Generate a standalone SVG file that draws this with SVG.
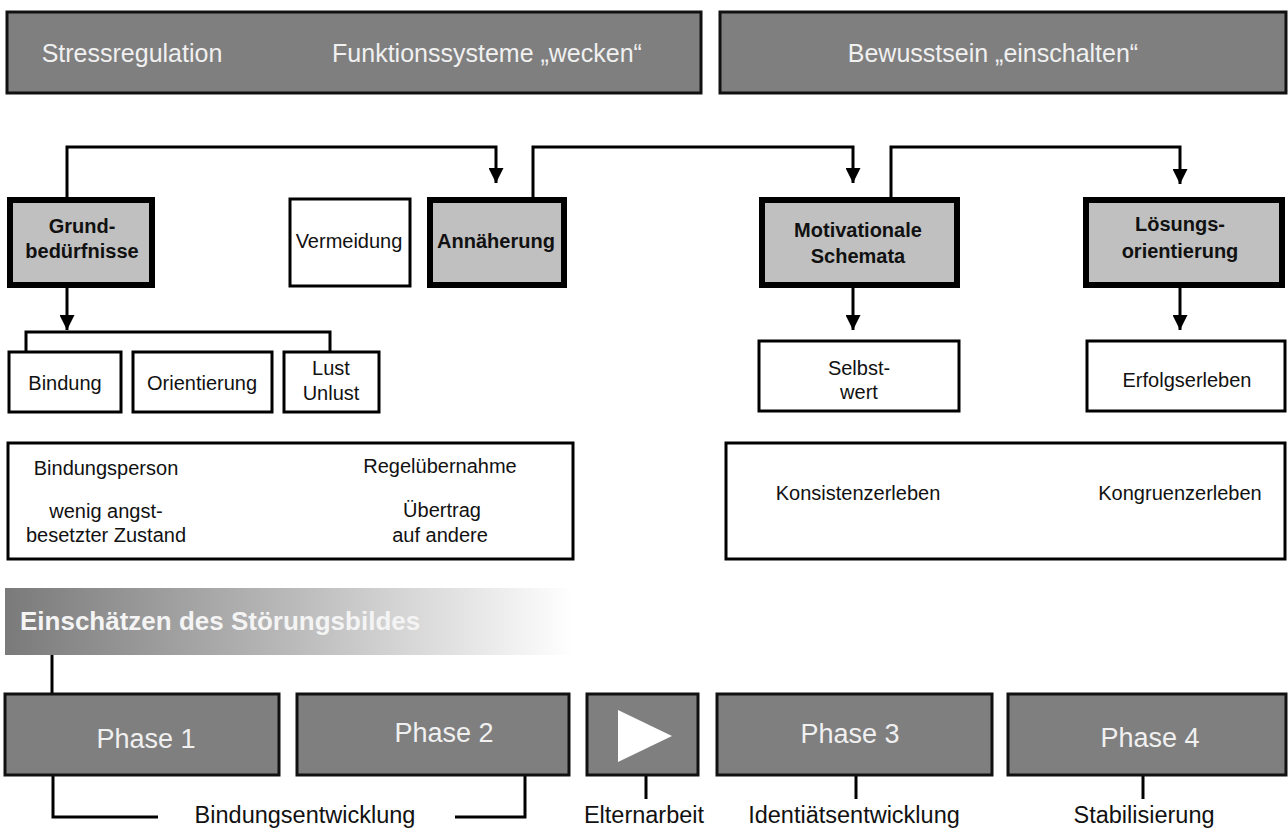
<svg xmlns="http://www.w3.org/2000/svg" width="1288" height="829" viewBox="0 0 1288 829">
<style>
.banner{fill:#7f7f7f;stroke:#111;stroke-width:3}
.hl{fill:#c0c0c0;stroke:#000;stroke-width:6}
.wb{fill:#fff;stroke:#000;stroke-width:3}
.t{font-family:"Liberation Sans",Arial,sans-serif;text-anchor:middle}
.wt{fill:#f0f0f0;font-size:25px}
.bt{fill:#111;font-weight:bold;font-size:20px}
.nt{fill:#111;font-size:20px}
.pt{fill:#f0f0f0;font-size:27px}
.lt{fill:#111;font-size:23.5px}
.ln{fill:none;stroke:#000;stroke-width:3}
</style>
<defs>
<marker id="ah" viewBox="0 0 10 10" refX="10" refY="5" markerWidth="5" markerHeight="5" markerUnits="strokeWidth" orient="auto">
<path d="M0,0 L10,5 L0,10 z" fill="#000"/>
</marker>
<linearGradient id="grad" x1="0" y1="0" x2="1" y2="0">
<stop offset="0" stop-color="#7a7a7a"/>
<stop offset="0.5" stop-color="#b9b9b9"/>
<stop offset="1" stop-color="#ffffff"/>
</linearGradient>
</defs>

<g id="banner-left">
<rect class="banner" x="7" y="12" width="694" height="81"/>
<text class="t wt" x="132" y="62">Stressregulation</text>
<text class="t wt" x="487" y="62">Funktionssysteme „wecken“</text>
</g>
<g id="banner-right">
<rect class="banner" x="720" y="12" width="566" height="81"/>
<text class="t wt" x="993" y="62">Bewusstsein „einschalten“</text>
</g>

<g id="connectors">
<polyline class="ln" points="67,197 67,147 496,147 496,183" marker-end="url(#ah)"/>
<polyline class="ln" points="533,197 533,147 853,147 853,183" marker-end="url(#ah)"/>
<polyline class="ln" points="891,197 891,147 1180,147 1180,184" marker-end="url(#ah)"/>
<line class="ln" x1="67" y1="287" x2="67" y2="330" marker-end="url(#ah)"/>
<polyline class="ln" points="26,351 26,332 330,332 330,351"/>
<line class="ln" x1="853" y1="287" x2="853" y2="330" marker-end="url(#ah)"/>
<line class="ln" x1="1180" y1="287" x2="1180" y2="330" marker-end="url(#ah)"/>
<line class="ln" x1="52" y1="655" x2="52" y2="693"/>
<polyline class="ln" points="53,775 53,817 158,817"/>
<polyline class="ln" points="455,817 525,817 525,775"/>
<line class="ln" x1="646" y1="775" x2="646" y2="799"/>
<line class="ln" x1="856" y1="775" x2="856" y2="799"/>
<line class="ln" x1="1143" y1="775" x2="1143" y2="799"/>
</g>

<g id="grundbeduerfnisse">
<rect class="hl" x="10" y="200" width="142" height="85"/>
<text class="t bt" x="82" y="233">Grund-</text>
<text class="t bt" x="82" y="258">bedürfnisse</text>
</g>
<g id="vermeidung">
<rect class="wb" x="290" y="199" width="120" height="87"/>
<text class="t nt" x="349" y="248">Vermeidung</text>
</g>
<g id="annaeherung">
<rect class="hl" x="430" y="200" width="134" height="85"/>
<text class="t bt" x="496" y="248">Annäherung</text>
</g>
<g id="motivationale-schemata">
<rect class="hl" x="762" y="200" width="195" height="85"/>
<text class="t bt" x="858" y="237">Motivationale</text>
<text class="t bt" x="858" y="263">Schemata</text>
</g>
<g id="loesungsorientierung">
<rect class="hl" x="1086" y="200" width="196" height="85"/>
<text class="t bt" x="1180" y="231">Lösungs-</text>
<text class="t bt" x="1180" y="258">orientierung</text>
</g>

<g id="bindung">
<rect class="wb" x="9" y="352" width="112" height="60"/>
<text class="t nt" x="65" y="390">Bindung</text>
</g>
<g id="orientierung">
<rect class="wb" x="133" y="352" width="139" height="60"/>
<text class="t nt" x="202" y="390">Orientierung</text>
</g>
<g id="lust-unlust">
<rect class="wb" x="284" y="352" width="95" height="60"/>
<text class="t nt" x="331" y="375">Lust</text>
<text class="t nt" x="331" y="400">Unlust</text>
</g>
<g id="selbstwert">
<rect class="wb" x="759" y="341" width="200" height="70"/>
<text class="t nt" x="859" y="375">Selbst-</text>
<text class="t nt" x="859" y="399">wert</text>
</g>
<g id="erfolgserleben">
<rect class="wb" x="1087" y="341" width="198" height="70"/>
<text class="t nt" x="1187" y="387">Erfolgserleben</text>
</g>

<g id="box-bindung-details">
<rect class="wb" x="8" y="443" width="565" height="116"/>
<text class="t nt" x="106" y="475">Bindungsperson</text>
<text class="t nt" x="440" y="473">Regelübernahme</text>
<text class="t nt" x="106" y="518">wenig angst-</text>
<text class="t nt" x="106" y="542">besetzter Zustand</text>
<text class="t nt" x="442" y="517">Übertrag</text>
<text class="t nt" x="440" y="542">auf andere</text>
</g>
<g id="box-konsistenz">
<rect class="wb" x="726" y="443" width="559" height="116"/>
<text class="t nt" x="858" y="500">Konsistenzerleben</text>
<text class="t nt" x="1180" y="500">Kongruenzerleben</text>
</g>

<g id="stoerungsbild">
<rect x="5" y="588" width="568" height="67" fill="url(#grad)"/>
<text x="20" y="630" font-family="Liberation Sans,Arial,sans-serif" font-weight="bold" font-size="26" fill="#f4f4f4">Einschätzen des Störungsbildes</text>
</g>

<g id="phase1">
<rect class="banner" x="5" y="694" width="274" height="81"/>
<text class="t pt" x="146" y="748">Phase 1</text>
</g>
<g id="phase2">
<rect class="banner" x="297" y="694" width="272" height="81"/>
<text class="t pt" x="444" y="742">Phase 2</text>
</g>
<g id="play">
<rect class="banner" x="587" y="694" width="111" height="81"/>
<polygon points="618,710 618,762 672,736" fill="#ffffff"/>
</g>
<g id="phase3">
<rect class="banner" x="717" y="694" width="275" height="81"/>
<text class="t pt" x="850" y="743">Phase 3</text>
</g>
<g id="phase4">
<rect class="banner" x="1008" y="694" width="278" height="81"/>
<text class="t pt" x="1150" y="747">Phase 4</text>
</g>

<g id="bottom-labels">
<text class="t lt" x="305" y="823">Bindungsentwicklung</text>
<text class="t lt" x="644" y="823">Elternarbeit</text>
<text class="t lt" x="854" y="823">Identiätsentwicklung</text>
<text class="t lt" x="1144" y="823">Stabilisierung</text>
</g>
</svg>
